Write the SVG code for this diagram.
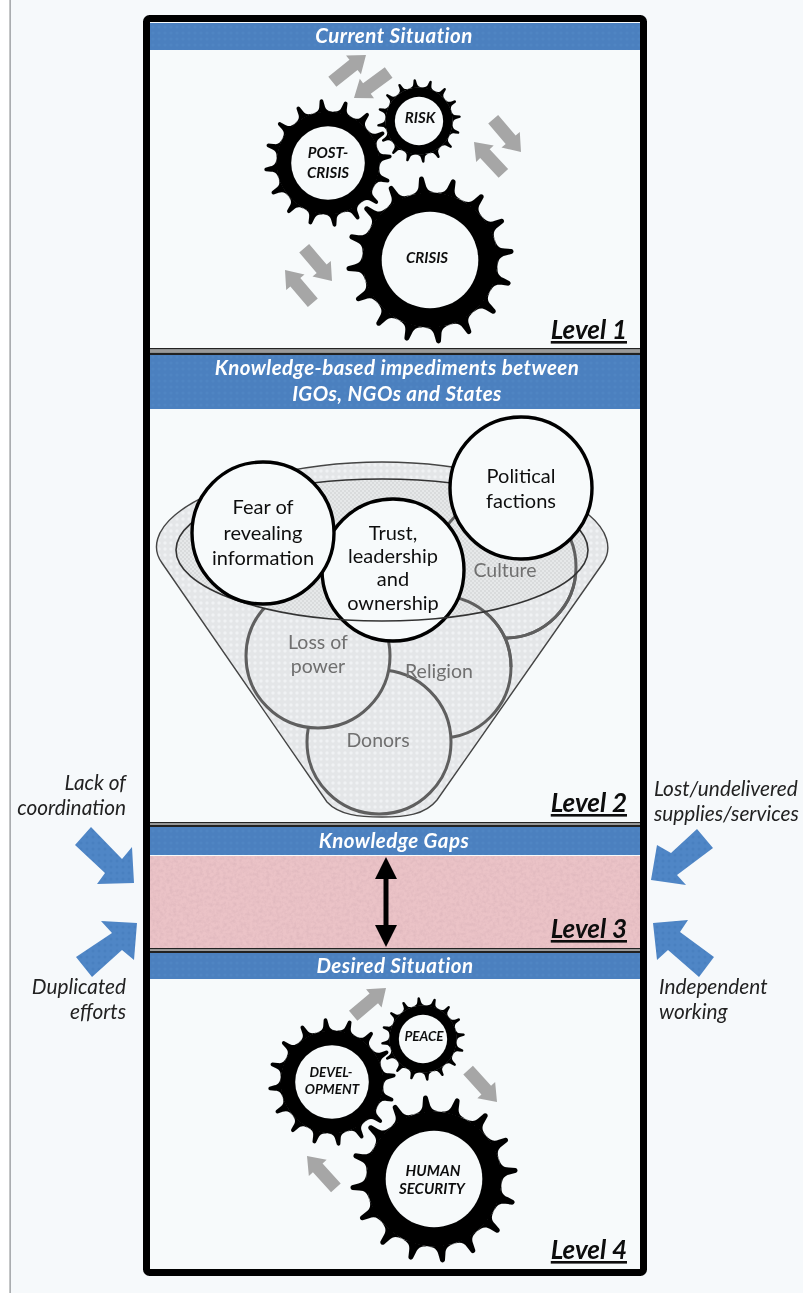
<svg xmlns="http://www.w3.org/2000/svg" width="803" height="1293" viewBox="0 0 803 1293">
<style>
text{font-family:Lato,"Noto Sans",sans-serif}
.hd{font-weight:700;font-style:italic;font-size:20.5px;letter-spacing:.45px;fill:#fff;text-anchor:middle}
.lv{font-weight:700;font-style:italic;font-size:26px;fill:#0a0a0a;text-anchor:end;text-decoration:underline}
.gt{font-weight:700;font-style:italic;font-size:15px;fill:#111;text-anchor:middle}
.gs{font-size:13.5px}
.bk{font-size:20px;fill:#111;text-anchor:middle}
.gy{font-size:19.5px;fill:#6f6f6f;text-anchor:middle}
.sd{font-style:italic;font-size:20.8px;fill:#222}
.bar{fill:url(#bluedots)}
.ga{fill:#a6a6a6}
.ci{stroke:#5e5e5e;stroke-width:3;fill:url(#dots)}
.ar{stroke:#5e5e5e;stroke-width:3;fill:none}
.wc{stroke:#000;stroke-width:3.4;fill:#f7fafb}
</style>
<defs>
<pattern id="dots" width="6" height="6" patternUnits="userSpaceOnUse"><rect width="6" height="6" fill="#e4e6e8"/><circle cx="3" cy="3" r="1.7" fill="#f0f2f4"/></pattern>
<pattern id="dots2" width="4" height="4" patternUnits="userSpaceOnUse"><rect width="4" height="4" fill="#d9dbdc"/><rect width="2" height="2" fill="#e6e8e9"/><rect x="2" y="2" width="2" height="2" fill="#e6e8e9"/></pattern>
<pattern id="bluedots" width="6" height="6" patternUnits="userSpaceOnUse"><rect width="6" height="6" fill="#4c80bf"/><circle cx="3" cy="3" r="1.5" fill="#5085c3"/></pattern>
<pattern id="sdots" width="6" height="6" patternUnits="userSpaceOnUse"><rect width="6" height="6" fill="#4f86c6"/><circle cx="3" cy="3" r="1.5" fill="#4a80c0"/></pattern>
<filter id="pk" x="0" y="0" width="1" height="1"><feTurbulence type="fractalNoise" baseFrequency="0.3" numOctaves="3" seed="7"/><feColorMatrix values="0 0 0 0 0.66  0 0 0 0 0.42  0 0 0 0 0.46  0 0 0 0.9 -0.32"/></filter>
<filter id="soft" x="0" y="0" width="1" height="1"><feGaussianBlur stdDeviation="0.45"/></filter>
<path id="tooth" d="M79.4,-15.8C80.5,-9 83,-5 90,-4.200L98,-2.800Q100,-2 100,0Q100,2 98,2.800L90,4.200C83,5 80.5,9 79.4,15.8Z"/>
<g id="gear"><g transform="rotate(-6)" fill="#050505"><circle r="80.500"/>
<use href="#tooth"/><use href="#tooth" transform="rotate(22.5)"/><use href="#tooth" transform="rotate(45)"/><use href="#tooth" transform="rotate(67.5)"/><use href="#tooth" transform="rotate(90)"/><use href="#tooth" transform="rotate(112.5)"/><use href="#tooth" transform="rotate(135)"/><use href="#tooth" transform="rotate(157.5)"/><use href="#tooth" transform="rotate(180)"/><use href="#tooth" transform="rotate(202.5)"/><use href="#tooth" transform="rotate(225)"/><use href="#tooth" transform="rotate(247.5)"/><use href="#tooth" transform="rotate(270)"/><use href="#tooth" transform="rotate(292.5)"/><use href="#tooth" transform="rotate(315)"/><use href="#tooth" transform="rotate(337.5)"/></g><circle r="57.5" fill="#f7fafb"/></g>
<path id="garrow" d="M0,0L-16,-12L-16,-6.500L-43,-6.500L-43,6.500L-16,6.500L-16,12Z"/>
</defs>
<g id="art" filter="url(#soft)">
<rect width="803" height="1293" fill="#f6f9fb"/>
<rect x="0" y="0" width="10" height="1293" fill="#ffffff"/>
<rect x="9.5" y="0" width="1.2" height="1293" fill="#8a8d90"/>
<rect id="panel" x="146.5" y="18.500" width="497" height="1254" rx="3" fill="#f7fafb" stroke="#050505" stroke-width="7"/>

<g id="bars">
<rect class="bar" x="150" y="23" width="490" height="27"/>
<rect class="bar" x="150" y="355" width="490" height="54"/>
<rect class="bar" x="150" y="827" width="490" height="28"/>
<rect class="bar" x="150" y="953" width="490" height="26"/>
<rect x="150" y="856" width="490" height="92" fill="#ebc3c7"/>
<rect x="150" y="856" width="490" height="92" filter="url(#pk)"/>
<g fill="#222"><rect x="150" y="348" width="490" height="1.5"/><rect x="150" y="352.5" width="490" height="2.5"/><rect x="150" y="822" width="490" height="1.5"/><rect x="150" y="825" width="490" height="2"/><rect x="150" y="948" width="490" height="1.5"/><rect x="150" y="951" width="490" height="2"/></g>
<g fill="#9a9a9a"><rect x="150" y="350" width="490" height="2"/><rect x="150" y="823.5" width="490" height="1.5"/><rect x="150" y="949.5" width="490" height="1.5"/></g>
</g>

<g id="funnel">
<path d="M162,563C151,548 157,530 175,515C212,484 300,462 382,462C464,462 552,484 589,515C607,530 613,548 603,563L437,800C425,815 405,817 382,817C359,817 339,815 327,802Z" fill="url(#dots)" stroke="#444" stroke-width="1.4"/>
</g>
<circle id="culture" class="ci" cx="505" cy="567" r="71"/>
<circle id="religion" class="ci" cx="440" cy="667" r="71"/>
<circle id="donors" class="ci" cx="379" cy="742" r="72"/>
<circle id="loss" class="ci" cx="318" cy="656" r="72"/>
<ellipse cx="382" cy="550" rx="206" ry="71" fill="url(#dots2)"/>
<path class="ar" d="M505,638A71,71 0 1 0 434,567"/>
<path class="ar" d="M440,596A71,71 0 0 1 511,667"/>
<circle id="trust" class="wc" cx="393" cy="570" r="71"/>
<ellipse cx="382" cy="550" rx="206" ry="71" fill="none" stroke="#333" stroke-width="1.6"/>
<circle id="fear" class="wc" cx="263" cy="533" r="71"/>
<circle id="political" class="wc" cx="521" cy="488" r="71"/>
<g id="funnel-labels">
<text class="bk" x="263" y="514">Fear of</text><text class="bk" x="263" y="540">revealing</text><text class="bk" x="263" y="565">information</text>
<text class="bk" x="393" y="540">Trust,</text><text class="bk" x="393" y="563">leadership</text><text class="bk" x="393" y="586">and</text><text class="bk" x="393" y="610">ownership</text>
<text class="bk" x="521" y="483">Political</text><text class="bk" x="521" y="508">factions</text>
<text class="gy" x="505" y="577">Culture</text><text class="gy" x="318" y="649">Loss of</text><text class="gy" x="318" y="673">power</text><text class="gy" x="439" y="678">Religion</text><text class="gy" x="378" y="747">Donors</text>
</g>

<g id="gear-crisis"><use href="#gear" transform="translate(430,260) scale(.84)"/><text class="gt" x="427" y="263">CRISIS</text></g>
<g id="gear-postcrisis"><use href="#gear" transform="translate(328,163) scale(.64)"/><text class="gt" x="328" y="158">POST-</text><text class="gt" x="328" y="178">CRISIS</text></g>
<g id="gear-risk"><use href="#gear" transform="translate(419,121) scale(.42)"/><text class="gt" x="420" y="123">RISK</text></g>
<g id="gear-human"><use href="#gear" transform="translate(434,1179) scale(.84)"/><text class="gt" x="433" y="1176">HUMAN</text><text class="gt" x="432" y="1194">SECURITY</text></g>
<g id="gear-dev"><use href="#gear" transform="translate(332,1082) scale(.64)"/><text class="gt gs" x="331" y="1077">DEVEL-</text><text class="gt gs" x="332" y="1094">OPMENT</text></g>
<g id="gear-peace"><use href="#gear" transform="translate(423,1039) scale(.42)"/><text class="gt gs" x="424" y="1041">PEACE</text></g>

<g id="connectors">
<g class="ga">
<use href="#garrow" transform="translate(366,55) rotate(-38.5)"/>
<use href="#garrow" transform="translate(354,98) rotate(143.7)"/>
<use href="#garrow" transform="translate(521,152) rotate(49.7)"/>
<use href="#garrow" transform="translate(474,142) rotate(226.9)"/>
<use href="#garrow" transform="translate(332,281) rotate(49.7)"/>
<use href="#garrow" transform="translate(285,270) rotate(229.7)"/>
<use href="#garrow" transform="translate(386,988) rotate(-40.3)"/>
<use href="#garrow" transform="translate(497,1102) rotate(47.8)"/>
<use href="#garrow" transform="translate(307,1156) rotate(227.8)"/>
</g>
<path fill="#050505" d="M386,857L397,879L388.500,879L388.500,925L397,925L386,947L375,925L383.500,925L383.500,879L375,879Z"/>
<g fill="url(#sdots)">
<path d="M91,827L75,845L105,873L97,884L134,883L132,847L122,859Z"/>
<path d="M137,923L101,921L112,933L76,957L92,977L122,950L134,960Z"/>
<path d="M651,880L686,885L677,875L713,848L697,829L671,853L657,845Z"/>
<path d="M653,923L688,920L680,932L714,957L699,977L668,950L657,960Z"/>
</g>
</g>

<g id="labels">
<text class="hd" x="394" y="43">Current Situation</text>
<text class="hd" x="397" y="375">Knowledge-based impediments between</text>
<text class="hd" x="397" y="401">IGOs, NGOs and States</text>
<text class="hd" x="394" y="848">Knowledge Gaps</text>
<text class="hd" x="395" y="973">Desired Situation</text>
<text class="lv" x="627" y="339">Level 1</text>
<text class="lv" x="627" y="812">Level 2</text>
<text class="lv" x="627" y="938">Level 3</text>
<text class="lv" x="627" y="1259">Level 4</text>
<text class="sd" x="126" y="790" text-anchor="end">Lack of</text>
<text class="sd" x="126" y="815" text-anchor="end">coordination</text>
<text class="sd" x="126" y="994" text-anchor="end">Duplicated</text>
<text class="sd" x="126" y="1019" text-anchor="end">efforts</text>
<text class="sd" x="654" y="796">Lost/undelivered</text>
<text class="sd" x="654" y="821">supplies/services</text>
<text class="sd" x="659" y="994">Independent</text>
<text class="sd" x="659" y="1019">working</text>
</g>
</g>
</svg>
